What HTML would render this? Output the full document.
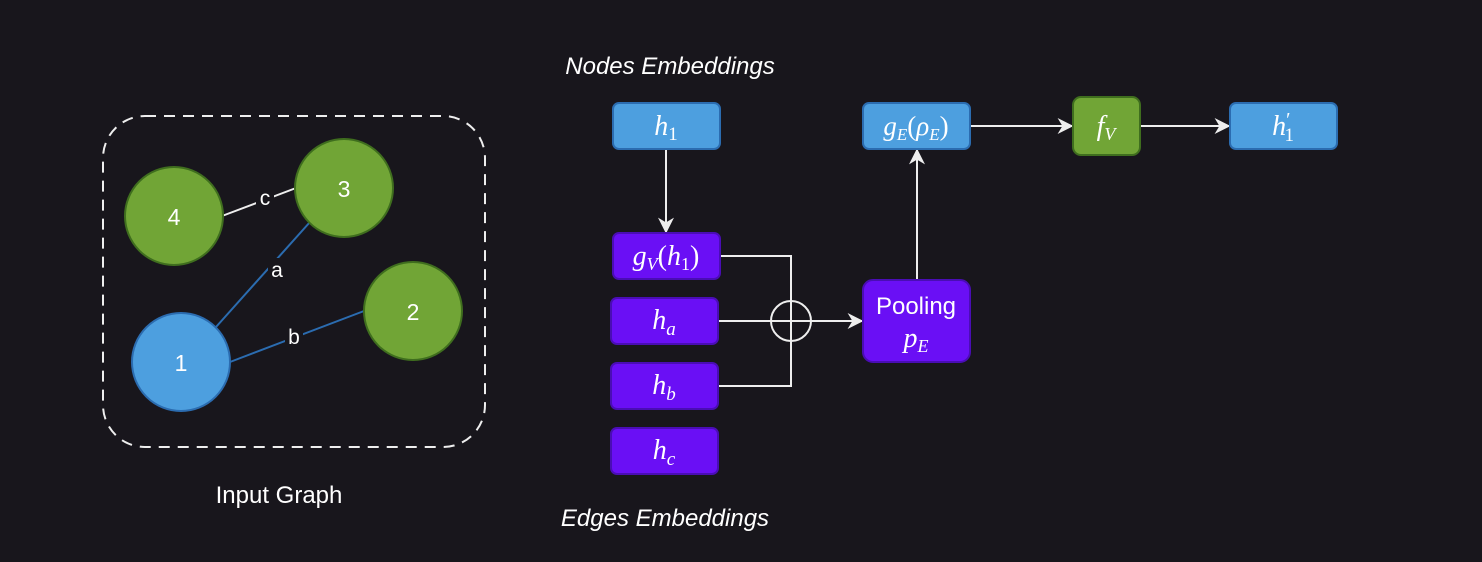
<!DOCTYPE html>
<html><head><meta charset="utf-8"><style>
html,body{margin:0;padding:0;background:#18161c;}
svg{display:block}
text{font-family:"Liberation Sans",sans-serif;fill:#fff}
.m{font-family:"Liberation Serif",serif;font-style:italic}
</style></head><body>
<svg width="1482" height="562" viewBox="0 0 1482 562" xmlns="http://www.w3.org/2000/svg">
<defs>
<marker id="ar" viewBox="0 0 10 10" refX="9" refY="5" markerWidth="16" markerHeight="16" markerUnits="userSpaceOnUse" orient="auto"><path d="M0,0 L10,5 L0,10 L3,5z" fill="#eee"/></marker>
</defs>
<rect width="1482" height="562" fill="#18161c"/>
<rect x="103" y="116" width="382" height="331" rx="42" fill="none" stroke="#eee" stroke-width="2" stroke-dasharray="11 8"/>
<line x1="222" y1="216" x2="296" y2="188" stroke="#eee" stroke-width="2"/>
<line x1="216" y1="327" x2="310" y2="222" stroke="#2b6cb0" stroke-width="2"/>
<line x1="230" y1="362" x2="364" y2="311" stroke="#2b6cb0" stroke-width="2"/>
<rect x="256" y="186" width="18" height="22" fill="#18161c"/>
<text x="265" y="205" font-size="21" text-anchor="middle">c</text>
<rect x="268" y="258" width="18" height="22" fill="#18161c"/>
<text x="277" y="277" font-size="21" text-anchor="middle">a</text>
<rect x="285" y="324" width="18" height="22" fill="#18161c"/>
<text x="294" y="344" font-size="21" text-anchor="middle">b</text>
<circle cx="174" cy="216" r="49" fill="#71a536" stroke="#3f6e1e" stroke-width="2"/>
<circle cx="344" cy="188" r="49" fill="#71a536" stroke="#3f6e1e" stroke-width="2"/>
<circle cx="413" cy="311" r="49" fill="#71a536" stroke="#3f6e1e" stroke-width="2"/>
<circle cx="181" cy="362" r="49" fill="#4d9fdf" stroke="#2b6cb0" stroke-width="2"/>
<text x="174" y="225" font-size="23" text-anchor="middle">4</text>
<text x="344" y="197" font-size="23" text-anchor="middle">3</text>
<text x="413" y="320" font-size="23" text-anchor="middle">2</text>
<text x="181" y="371" font-size="23" text-anchor="middle">1</text>
<text x="279" y="503" font-size="24" text-anchor="middle">Input Graph</text>
<text x="670" y="74" font-size="24" font-style="italic" text-anchor="middle">Nodes Embeddings</text>
<text x="665" y="526" font-size="24" font-style="italic" text-anchor="middle">Edges Embeddings</text>
<line x1="666" y1="149" x2="666" y2="232" stroke="#eee" stroke-width="2" marker-end="url(#ar)"/>
<polyline points="720,256 791,256 791,386 718,386" fill="none" stroke="#eee" stroke-width="2"/>
<line x1="718" y1="321" x2="862" y2="321" stroke="#eee" stroke-width="2" marker-end="url(#ar)"/>
<circle cx="791" cy="321" r="20" fill="none" stroke="#eee" stroke-width="2"/>
<line x1="917" y1="280" x2="917" y2="150" stroke="#eee" stroke-width="2" marker-end="url(#ar)"/>
<line x1="970" y1="126" x2="1072" y2="126" stroke="#eee" stroke-width="2" marker-end="url(#ar)"/>
<line x1="1140" y1="126" x2="1229" y2="126" stroke="#eee" stroke-width="2" marker-end="url(#ar)"/>
<g stroke-width="2">
<rect x="613" y="103" width="107" height="46" rx="6" fill="#4d9fdf" stroke="#2b6cb0"/>
<rect x="613" y="233" width="107" height="46" rx="6" fill="#6a0ff5" stroke="#4a0db5"/>
<rect x="611" y="298" width="107" height="46" rx="6" fill="#6a0ff5" stroke="#4a0db5"/>
<rect x="611" y="363" width="107" height="46" rx="6" fill="#6a0ff5" stroke="#4a0db5"/>
<rect x="611" y="428" width="107" height="46" rx="6" fill="#6a0ff5" stroke="#4a0db5"/>
<rect x="863" y="280" width="107" height="82" rx="10" fill="#6a0ff5" stroke="#4a0db5"/>
<rect x="863" y="103" width="107" height="46" rx="6" fill="#4d9fdf" stroke="#2b6cb0"/>
<rect x="1073" y="97" width="67" height="58" rx="8" fill="#71a536" stroke="#3f6e1e"/>
<rect x="1230" y="103" width="107" height="46" rx="6" fill="#4d9fdf" stroke="#2b6cb0"/>
</g>
<text class="m" x="666" y="135" font-size="28" text-anchor="middle">h<tspan font-size="19" font-style="normal" dy="5">1</tspan></text>
<text class="m" x="666" y="265" font-size="28" text-anchor="middle">g<tspan font-size="18" dy="5">V</tspan><tspan font-style="normal" dy="-5">(</tspan>h<tspan font-size="18" font-style="normal" dy="5">1</tspan><tspan font-style="normal" dy="-5">)</tspan></text>
<text class="m" x="664" y="329" font-size="28" text-anchor="middle">h<tspan font-size="19" dy="6">a</tspan></text>
<text class="m" x="664" y="394" font-size="28" text-anchor="middle">h<tspan font-size="19" dy="6">b</tspan></text>
<text class="m" x="664" y="459" font-size="28" text-anchor="middle">h<tspan font-size="19" dy="6">c</tspan></text>
<text x="916" y="314" font-size="24" text-anchor="middle">Pooling</text>
<text class="m" x="916" y="347" font-size="28" text-anchor="middle">p<tspan font-size="18" dy="5">E</tspan></text>
<text class="m" x="916" y="135" font-size="27" text-anchor="middle">g<tspan font-size="17" dy="5">E</tspan><tspan font-style="normal" dy="-5">(</tspan>ρ<tspan font-size="17" dy="5">E</tspan><tspan font-style="normal" dy="-5">)</tspan></text>
<text class="m" x="1106" y="135" font-size="28" text-anchor="middle">f<tspan font-size="18" dy="5">V</tspan></text>
<text class="m" x="1283" y="135" font-size="28" text-anchor="middle">h<tspan font-style="normal" font-size="20" dy="-9">′</tspan><tspan font-size="19" font-style="normal" dx="-6" dy="15">1</tspan></text>
</svg>
</body></html>
